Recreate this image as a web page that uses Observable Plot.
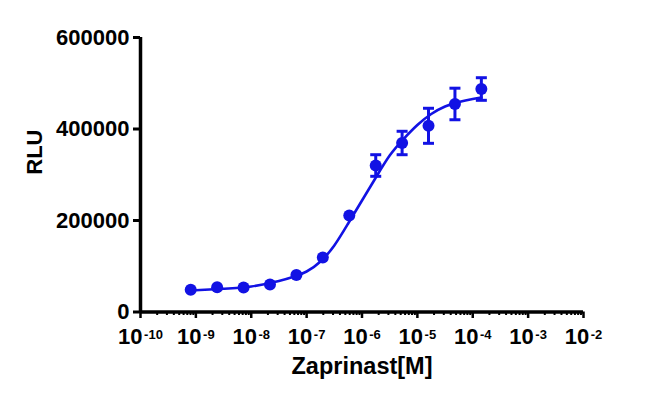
<!DOCTYPE html>
<html>
<head>
<meta charset="utf-8">
<script src="https://cdn.jsdelivr.net/npm/d3@7"></script>
<script src="https://cdn.jsdelivr.net/npm/@observablehq/plot@0.6"></script>
<style>
  html, body { margin: 0; padding: 0; background: #fff; }
  #chart svg { display: block; }
</style>
</head>
<body>
<div id="chart"></div>
<script>
// Measured concentrations (M), mean RLU and error (SEM)
const conc = [8.07e-10, 2.42e-9, 7.27e-9, 2.18e-8, 6.54e-8, 1.96e-7, 5.89e-7, 1.77e-6, 5.3e-6, 1.59e-5, 4.77e-5, 1.43e-4];
const rlu  = [48500, 54200, 53600, 60100, 80900, 119100, 210900, 320200, 369400, 407000, 454700, 487400];
const err  = [0, 0, 0, 0, 0, 0, 0, 23600, 25600, 38300, 34500, 24700];

// Fitted curve, points
const fitConc = [8.07e-10, 3.16e-9, 1e-8, 3.16e-8, 5.62e-8, 1e-7, 1.78e-7, 3.16e-7, 5.62e-7, 1e-6, 1.78e-6, 3.16e-6, 5.62e-6, 1e-5, 1.78e-5, 3.16e-5, 5.62e-5, 1e-4, 1.43e-4];
const fitRLU  = [47000, 50700, 55700, 67800, 76500, 88500, 110400, 145400, 193400, 243700, 294000, 342100, 378100, 408700, 432800, 449200, 459000, 465600, 468900];

// Axis ticks
const xMajorTicks = [1e-10, 1e-9, 1e-8, 1e-7, 1e-6, 1e-5, 1e-4, 1e-3, 1e-2];
const xMinorMult = [2, 3, 4, 5, 6, 7, 8, 9];
const yTicks = [0, 200000, 400000, 600000];
const xTitle = "Zaprinast[M]";
const yTitle = "RLU";

const blue = "#1212e4";
const font = "'Liberation Sans', Arial, Helvetica, sans-serif";

const points = conc.map((c, i) => ({c, y: rlu[i], e: err[i]}));
const errPoints = points.filter(d => d.e > 0);
const fit = fitConc.map((c, i) => ({c, y: fitRLU[i]}));
const xMinorTicks = xMajorTicks.slice(0, -1).flatMap(t => xMinorMult.map(m => m * t));

const capSymbol = {
  draw(context, size) {
    const w = Math.sqrt(size / Math.PI);
    context.moveTo(-w, 0);
    context.lineTo(w, 0);
  }
};

const plot = Plot.plot({
  width: 650,
  height: 399,
  marginLeft: 140,
  marginRight: 67,
  marginTop: 37,
  marginBottom: 87.5,
  style: {fontFamily: font, background: "#fff", overflow: "visible"},
  x: {type: "log", domain: [1e-10, 1e-2], axis: null, label: null},
  y: {domain: [0, 600000], axis: null, label: null},
  marks: [
    Plot.axisX(xMinorTicks, {tickSize: 3.5, strokeWidth: 2, tickFormat: () => "", label: null}),
    Plot.axisX(xMajorTicks, {
      tickSize: 6.5, strokeWidth: 2.5, tickPadding: 10,
      tickFormat: d => String(Math.round(Math.log10(d))),
      fontSize: 22, fontWeight: "bold", fill: "#000", label: null
    }),
    Plot.axisY(yTicks, {
      tickSize: 7, strokeWidth: 3, tickPadding: 4,
      tickFormat: d => String(d),
      fontSize: 22, fontWeight: "bold", fill: "#000", label: null
    }),
    Plot.ruleY([0], {strokeWidth: 3.5, stroke: "#000"}),
    Plot.ruleX([1e-10], {strokeWidth: 3.5, stroke: "#000"}),
    Plot.line(fit, {x: "c", y: "y", stroke: blue, strokeWidth: 2.6, curve: "natural"}),
    Plot.ruleX(errPoints, {x: "c", y1: d => d.y - d.e, y2: d => d.y + d.e, stroke: blue, strokeWidth: 3}),
    Plot.dot(errPoints, {x: "c", y: d => d.y + d.e, symbol: capSymbol, r: 5.5, stroke: blue, strokeWidth: 3}),
    Plot.dot(errPoints, {x: "c", y: d => d.y - d.e, symbol: capSymbol, r: 5.5, stroke: blue, strokeWidth: 3}),
    Plot.dot(points, {x: "c", y: "y", r: 6, fill: blue, stroke: null}),
    Plot.text([xTitle], {frameAnchor: "bottom", dy: 62, lineAnchor: "bottom", fontSize: 23.5, fontWeight: "bold", fill: "#000"}),
    Plot.text([yTitle], {frameAnchor: "left", dx: -106, rotate: -90, fontSize: 22, fontWeight: "bold", fill: "#000"})
  ]
});

// Render x tick labels as 10 with superscript exponent
plot.querySelectorAll('g[aria-label="x-axis tick label"] text').forEach(t => {
  const e = t.textContent;
  if (!e) return;
  t.textContent = "";
  const base = document.createElementNS("http://www.w3.org/2000/svg", "tspan");
  base.textContent = "10";
  const sup = document.createElementNS("http://www.w3.org/2000/svg", "tspan");
  sup.textContent = e;
  sup.setAttribute("font-size", "13");
  sup.setAttribute("dy", "-5");
  sup.setAttribute("dx", "1.5");
  t.appendChild(base);
  t.appendChild(sup);
});

document.getElementById("chart").appendChild(plot);
</script>
</body>
</html>
